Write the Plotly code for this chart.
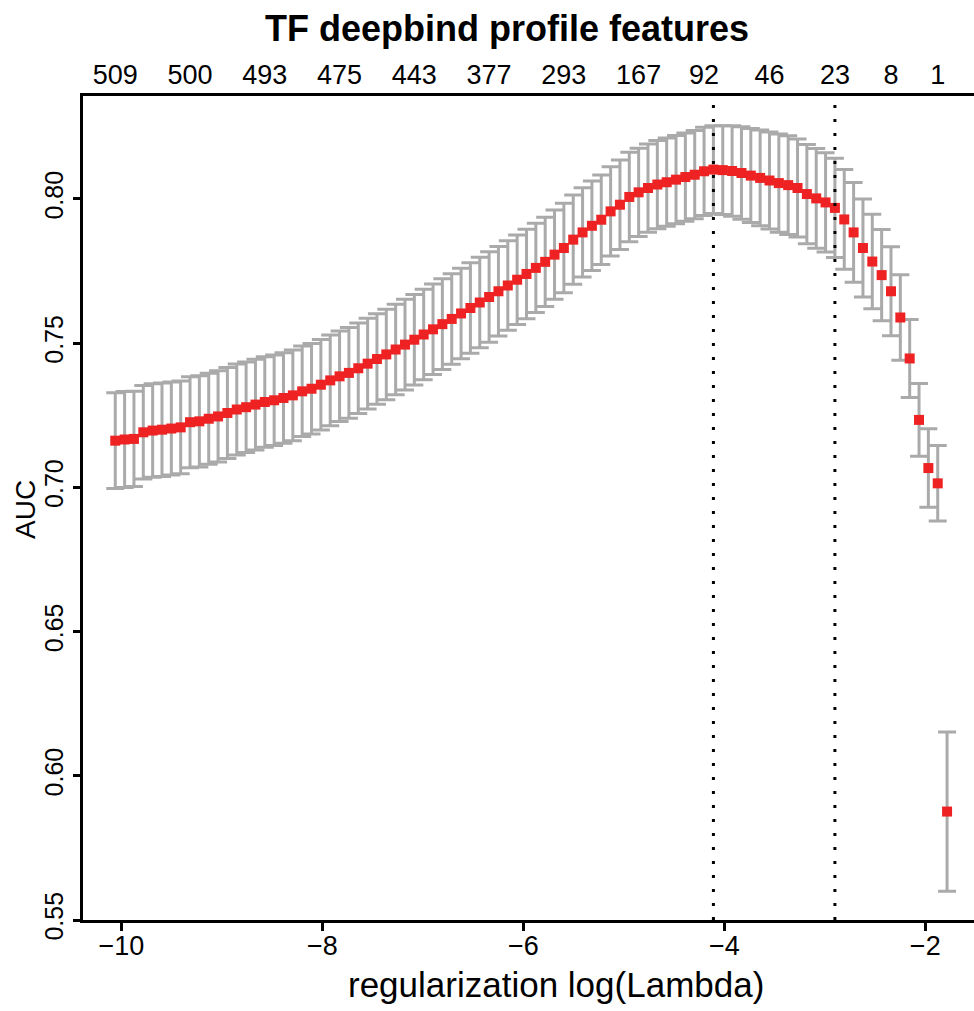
import plotly.graph_objects as go

# log(lambda) sequence
log_lambda = [
    -10.060, -9.967, -9.874, -9.781, -9.688, -9.595, -9.502, -9.409, -9.316, -9.223,
    -9.130, -9.037, -8.944, -8.851, -8.758, -8.665, -8.572, -8.479, -8.386, -8.293,
    -8.200, -8.107, -8.014, -7.921, -7.828, -7.735, -7.642, -7.549, -7.456, -7.363,
    -7.270, -7.177, -7.084, -6.991, -6.898, -6.805, -6.712, -6.619, -6.526, -6.433,
    -6.340, -6.247, -6.154, -6.061, -5.968, -5.875, -5.782, -5.689, -5.596, -5.503,
    -5.410, -5.317, -5.224, -5.131, -5.038, -4.945, -4.852, -4.759, -4.666, -4.573,
    -4.480, -4.387, -4.294, -4.201, -4.108, -4.015, -3.922, -3.829, -3.736, -3.643,
    -3.550, -3.457, -3.364, -3.271, -3.178, -3.085, -2.992, -2.899, -2.806, -2.713,
    -2.620, -2.527, -2.434, -2.341, -2.248, -2.155, -2.062, -1.969, -1.876, -1.783,
]

# mean cross-validated AUC
auc_mean = [
    0.7162, 0.7166, 0.7168, 0.7191, 0.7197, 0.7200, 0.7204, 0.7208, 0.7226, 0.7229,
    0.7238, 0.7246, 0.7258, 0.7270, 0.7278, 0.7287, 0.7296, 0.7302, 0.7310, 0.7319,
    0.7333, 0.7342, 0.7356, 0.7371, 0.7385, 0.7397, 0.7413, 0.7429, 0.7445, 0.7461,
    0.7478, 0.7495, 0.7512, 0.7530, 0.7548, 0.7566, 0.7584, 0.7603, 0.7622, 0.7641,
    0.7660, 0.7680, 0.7700, 0.7720, 0.7740, 0.7761, 0.7782, 0.7807, 0.7830, 0.7859,
    0.7884, 0.7907, 0.7928, 0.7957, 0.7980, 0.8007, 0.8023, 0.8038, 0.8050, 0.8058,
    0.8067, 0.8076, 0.8084, 0.8096, 0.8102, 0.8100, 0.8097, 0.8090, 0.8081, 0.8073,
    0.8064, 0.8055, 0.8048, 0.8038, 0.8017, 0.8002, 0.7988, 0.7969, 0.7929, 0.7884,
    0.7830, 0.7783, 0.7736, 0.7680, 0.7589, 0.7447, 0.7234, 0.7067, 0.7014, 0.5876,
]

# standard error of AUC
auc_se = [
    0.0166, 0.0166, 0.0165, 0.0162, 0.0162, 0.0162, 0.0161, 0.0161, 0.0158, 0.0158,
    0.0158, 0.0158, 0.0158, 0.0158, 0.0157, 0.0157, 0.0157, 0.0157, 0.0157, 0.0157,
    0.0157, 0.0157, 0.0157, 0.0157, 0.0157, 0.0157, 0.0157, 0.0157, 0.0157, 0.0157,
    0.0157, 0.0157, 0.0157, 0.0157, 0.0157, 0.0157, 0.0157, 0.0157, 0.0157, 0.0157,
    0.0157, 0.0155, 0.0155, 0.0155, 0.0155, 0.0155, 0.0155, 0.0155, 0.0155, 0.0155,
    0.0155, 0.0155, 0.0155, 0.0155, 0.0155, 0.0155, 0.0153, 0.0153, 0.0153, 0.0153,
    0.0153, 0.0153, 0.0153, 0.0153, 0.0152, 0.0154, 0.0157, 0.0160, 0.0163, 0.0166,
    0.0168, 0.0170, 0.0171, 0.0170, 0.0172, 0.0173, 0.0172, 0.0172, 0.0173, 0.0173,
    0.0170, 0.0164, 0.0158, 0.0154, 0.0148, 0.0135, 0.0126, 0.0136, 0.0131, 0.0276,
]

# top axis: number of non-zero features at selected lambdas
top_idx = [0, 8, 16, 24, 32, 40, 48, 56, 63, 70, 77, 83, 88]
top_labels = ["509", "500", "493", "475", "443", "377", "293", "167", "92", "46", "23", "8", "1"]

idx_min = 64
idx_1se = 77

x_ticks = [-10, -8, -6, -4, -2]
y_ticks = [0.55, 0.60, 0.65, 0.70, 0.75, 0.80]

FONT = "Liberation Sans, Arial, Helvetica, sans-serif"

fig = go.Figure()
fig.add_trace(go.Scatter(
    x=log_lambda, y=auc_mean, mode="markers",
    marker=dict(symbol="square", size=10, color="#EE2222", line=dict(width=0)),
    error_y=dict(type="data", array=auc_se, visible=True, color="#AAAAAA",
                 thickness=3, width=9),
    showlegend=False, hoverinfo="x+y",
))
# invisible trace to activate top axis
fig.add_trace(go.Scatter(x=[log_lambda[0]], y=[auc_mean[0]], xaxis="x2",
                         mode="markers", marker=dict(opacity=0), showlegend=False,
                         hoverinfo="skip"))

for i in (idx_min, idx_1se):
    fig.add_shape(type="line", xref="x", yref="paper",
                  x0=log_lambda[i], x1=log_lambda[i], y0=0, y1=1,
                  line=dict(color="black", width=3, dash="3px,11px"), layer="above")

xr = [-10.381, -1.515]
fig.update_layout(
    width=974, height=1011,
    margin=dict(l=83, r=0, t=96, b=91),
    paper_bgcolor="white", plot_bgcolor="white",
    font=dict(family=FONT, color="black"),
    xaxis=dict(range=xr, tickvals=x_ticks, ticktext=["\u221210", "\u22128", "\u22126", "\u22124", "\u22122"],
               showgrid=False, zeroline=False, showline=True, linecolor="black", linewidth=3,
               ticks="outside", ticklen=8, tickwidth=3, tickcolor="black",
               tickfont=dict(size=27, family=FONT), ticklabelstandoff=-8),
    xaxis2=dict(range=xr, overlaying="x", side="top", matches="x",
                tickvals=[log_lambda[i] for i in top_idx], ticktext=top_labels,
                showgrid=False, zeroline=False, showline=True, linecolor="black", linewidth=3,
                ticks="", tickfont=dict(size=27, family=FONT), ticklabelstandoff=-2),
    yaxis=dict(range=[0.55, 0.8357], tickvals=y_ticks, ticktext=[f"{v:.2f}" for v in y_ticks],
               showgrid=False, zeroline=False, showline=True, linecolor="black", linewidth=3,
               ticks="outside", ticklen=7, tickwidth=3, tickcolor="black",
               tickangle=-90, tickfont=dict(size=25, family=FONT)),
    annotations=[
        dict(text="<b>TF deepbind profile features</b>", xref="paper", yref="paper",
             x=(507 - 83) / 891, y=1 + (96 - 28) / 824, xanchor="center", yanchor="middle",
             showarrow=False, font=dict(size=36, family=FONT)),
        dict(text="regularization log(Lambda)", xref="paper", yref="paper",
             x=(556 - 83) / 891, y=-(984 - 920) / 824, xanchor="center", yanchor="middle",
             showarrow=False, font=dict(size=35, family=FONT)),
        dict(text="AUC", xref="paper", yref="paper", textangle=-90,
             x=(25 - 83) / 891, y=(920 - 510) / 824, xanchor="center", yanchor="middle",
             showarrow=False, font=dict(size=28, family=FONT)),
    ],
)

fig.write_html("out.html")
